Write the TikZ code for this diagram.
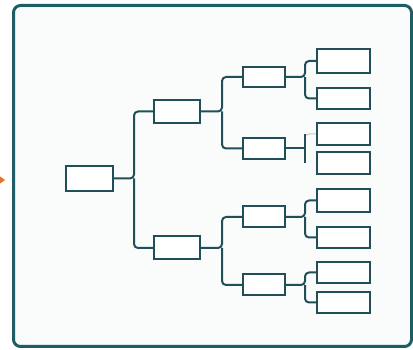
\documentclass[tikz,border=0pt]{standalone}
\usetikzlibrary{positioning}
\definecolor{frameteal}{HTML}{1E5C68}
\definecolor{boxteal}{HTML}{214F59}
\definecolor{paneback}{HTML}{FAFBFB}
\definecolor{pointorange}{HTML}{E8702A}
\tikzset{
  box/.style={draw=boxteal, line width=2pt, fill=white, inner sep=0pt, minimum width=#1},
  box/.default=46pt,
  link/.style={draw=boxteal, line width=2pt, rounded corners=4pt},
  faintlink/.style={draw=gray!45, line width=1pt, rounded corners=4pt}
}
\begin{document}
\begin{tikzpicture}[x=1pt,y=-1pt]
\useasboundingbox (0,0) rectangle (413,350);
% outer frame
\draw[frameteal, line width=3pt, fill=paneback, rounded corners=7pt] (13.5,5.5) rectangle (411.5,346.5);
% orange pointer at the left
\fill[pointorange] (-2,175) -- (5,180) -- (-2,185) -- cycle;
% root and first level
\node[box=47pt, minimum height=25pt] (root) at (89.5,178.5) {};
\node[box=46pt, minimum height=23pt] (upper) at (177,111.5) {};
\node[box=46pt, minimum height=23pt] (lower) at (177,248) {};
% second level
\node[box=42pt, minimum height=20pt] (ua) at (264,77) {};
\node[box=42pt, minimum height=21pt] (ub) at (264,148.5) {};
\node[box=42pt, minimum height=21pt] (la) at (264,217) {};
\node[box=42pt, minimum height=21pt] (lb) at (264,285) {};
% leaves
\node[box=53pt, minimum height=24pt] (leaf1) at (343.5,61) {};
\node[box=53pt, minimum height=21pt] (leaf2) at (343.5,98.5) {};
\node[box=53pt, minimum height=22pt] (leaf3) at (343.5,134) {};
\node[box=53pt, minimum height=22pt] (leaf4) at (343.5,163) {};
\node[box=53pt, minimum height=23pt] (leaf5) at (343.5,200.5) {};
\node[box=53pt, minimum height=21pt] (leaf6) at (343.5,237.5) {};
\node[box=53pt, minimum height=21pt] (leaf7) at (343.5,272.5) {};
\node[box=53pt, minimum height=21pt] (leaf8) at (343.5,302.5) {};
% branches
\coordinate (j0) at (134,178.5);
\coordinate (j1) at (222,111.5);
\coordinate (j2) at (222,248);
\draw[link] (root.east) -- (j0) |- (upper.west);
\draw[link] (j0) |- (lower.west);
\draw[link] (upper.east) -- (j1) |- (ua.west);
\draw[link] (j1) |- (ub.west);
\draw[link] (lower.east) -- (j2) |- (la.west);
\draw[link] (j2) |- (lb.west);
\coordinate (k1) at (305,77);
\coordinate (k2) at (305,148.5);
\coordinate (k3) at (305,217);
\coordinate (k4) at (305,285);
\draw[link] (ua.east) -- (k1) |- (leaf1.west);
\draw[link] (k1) |- (leaf2.west);
\draw[link] (ub.east) -- (k2);
\draw[faintlink] (305,136) |- (leaf3.west);
\draw[boxteal, line width=2pt] (305,134.5) -- (305,163);
\draw[link] (la.east) -- (k3) |- (leaf5.west);
\draw[link] (k3) |- (leaf6.west);
\draw[link] (lb.east) -- (k4) |- (leaf7.west);
\draw[link] (k4) |- (leaf8.west);
\end{tikzpicture}
\end{document}
